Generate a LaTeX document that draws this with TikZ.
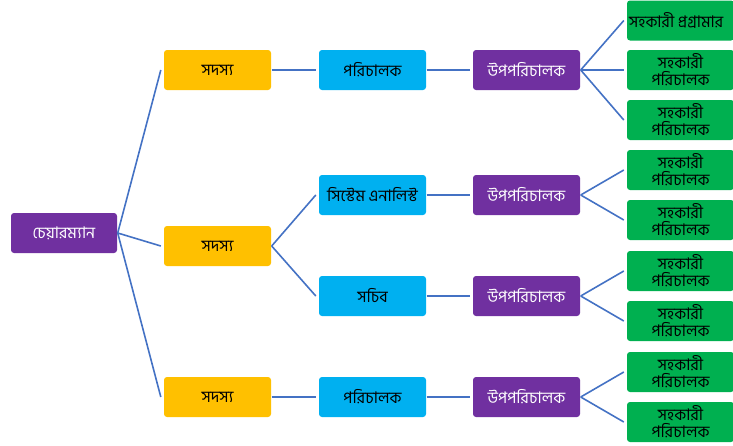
\documentclass[tikz,border=0pt]{standalone}
\usepackage{fontspec}
\newfontfamily\bn[Script=Bengali]{Hind Siliguri}
\definecolor{cpurple}{HTML}{7030A0}
\definecolor{cgold}{HTML}{FFC000}
\definecolor{ccyan}{HTML}{00B0F0}
\definecolor{cgreen}{HTML}{00B050}
\definecolor{cline}{HTML}{4472C4}
\tikzset{
  bnfont/.style={font=\bn\fontsize{16}{17}\selectfont},
  box/.style={rounded corners=3pt, minimum width=107pt, minimum height=40pt, inner sep=0pt,
    bnfont, align=center, text=black},
  purplebox/.style={box, fill=cpurple, text=white},
  goldbox/.style={box, fill=cgold},
  cyanbox/.style={box, fill=ccyan},
  greenbox/.style={box, fill=cgreen},
  conn/.style={draw=cline, line width=1.6pt}
}
\begin{document}
\begin{tikzpicture}[x=1pt,y=-1pt]
\useasboundingbox (0,0) rectangle (733,445);
\node[purplebox, minimum width=106pt] (ch) at (64,233) {চেয়ারম্যান};
\node[goldbox] (s1) at (217.5,70) {সদস্য};
\node[goldbox] (s2) at (217.5,246) {সদস্য};
\node[goldbox] (s3) at (217.5,397) {সদস্য};
\node[cyanbox] (p1) at (372.5,70) {পরিচালক};
\node[cyanbox] (sa) at (372.5,195) {সিস্টেম এনালিস্ট};
\node[cyanbox] (sc) at (372.5,296) {সচিব};
\node[cyanbox] (p3) at (372.5,397) {পরিচালক};
\node[purplebox] (u1) at (526.5,70) {উপপরিচালক};
\node[purplebox] (u2) at (526.5,195) {উপপরিচালক};
\node[purplebox] (u3) at (526.5,296) {উপপরিচালক};
\node[purplebox] (u4) at (526.5,397) {উপপরিচালক};
\node[greenbox] (g1) at (680.5,20.5) {};
\node[bnfont, anchor=west, inner sep=0pt] (g1t) at ([xshift=2pt]g1.west) {সহকারী প্রগ্রামার};
\node[greenbox] (g2) at (680.5,70) {সহকারী\\পরিচালক};
\node[greenbox] (g3) at (680.5,120) {সহকারী\\পরিচালক};
\node[greenbox] (g4) at (680.5,170) {সহকারী\\পরিচালক};
\node[greenbox] (g5) at (680.5,220) {সহকারী\\পরিচালক};
\node[greenbox] (g6) at (680.5,271) {সহকারী\\পরিচালক};
\node[greenbox] (g7) at (680.5,321) {সহকারী\\পরিচালক};
\node[greenbox] (g8) at (680.5,372) {সহকারী\\পরিচালক};
\node[greenbox] (g9) at (680.5,422) {সহকারী\\পরিচালক};
\foreach \a/\b in {ch/s1,ch/s2,ch/s3,s1/p1,s2/sa,s2/sc,s3/p3,p1/u1,sa/u2,sc/u3,p3/u4,
  u1/g1,u1/g2,u1/g3,u2/g4,u2/g5,u3/g6,u3/g7,u4/g8,u4/g9}
  \draw[conn] ([xshift=0.5pt]\a.east) -- ([xshift=-3pt]\b.west);
\end{tikzpicture}
\end{document}
